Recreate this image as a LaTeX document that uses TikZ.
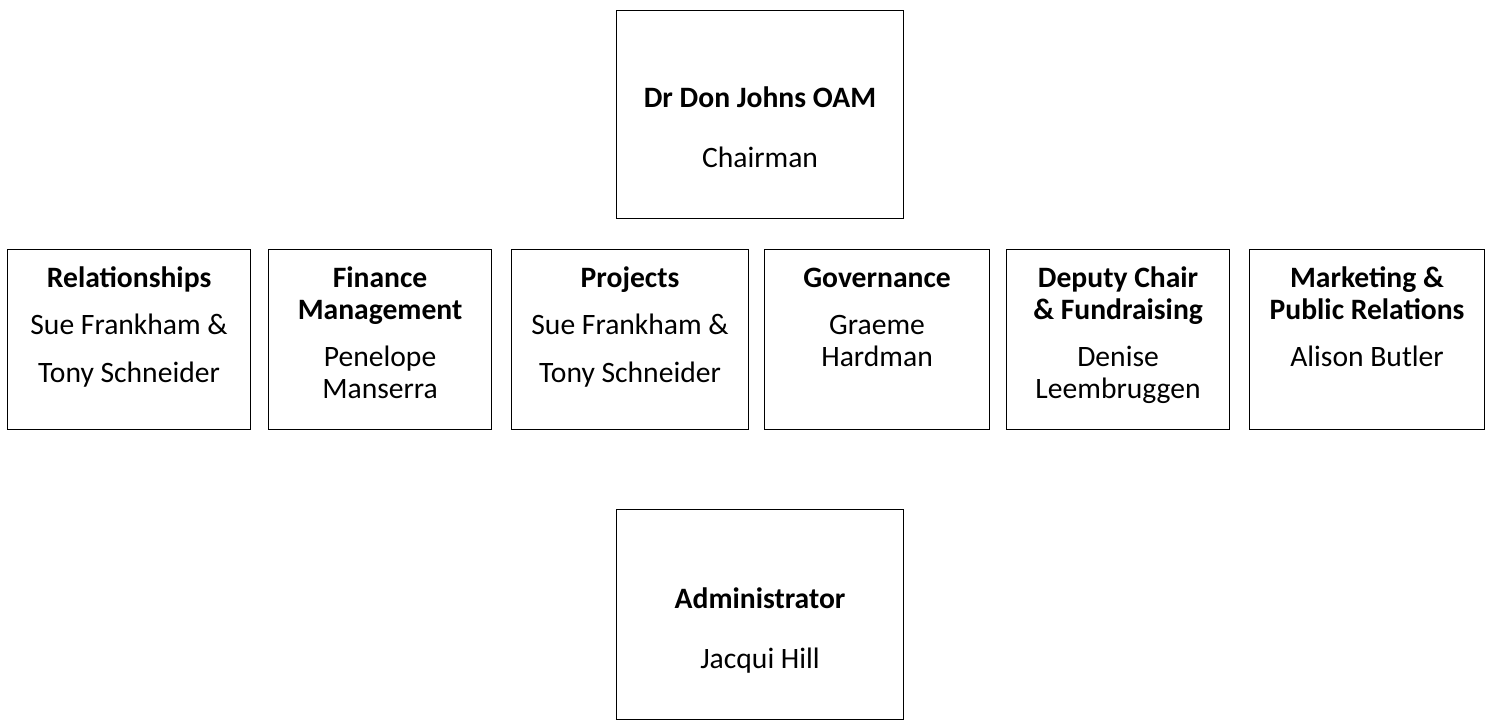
\documentclass[tikz,border=0pt]{standalone}
\usepackage{fontspec}
\setmainfont{Carlito}
\usetikzlibrary{positioning}

\tikzset{
  unitbox/.style={draw, line width=1.1pt, inner sep=0pt, anchor=north west,
    minimum height=180pt},
  boxtext/.style={inner sep=0pt, align=center, anchor=base,
    font=\fontsize{29.6}{32}\selectfont}
}

\begin{document}
\begin{tikzpicture}[x=1pt, y=-1pt]
    \useasboundingbox (0,0) rectangle (1494,720);
    % chairman
    \node[unitbox, minimum width=287pt, minimum height=208pt] (chair) at (616,10) {};
    \node[boxtext] (chairtxt) at (chair.north |- 0,167) {\textbf{Dr Don Johns OAM}\\[28pt] Chairman};
    % portfolio row
    \node[unitbox, minimum width=243pt] (rel) at (7,249) {};
    \node[unitbox, minimum width=223pt] (fin) at (268,249) {};
    \node[unitbox, minimum width=237pt] (proj) at (511,249) {};
    \node[unitbox, minimum width=225pt] (gov) at (764,249) {};
    \node[unitbox, minimum width=223pt] (dep) at (1006,249) {};
    \node[unitbox, minimum width=235pt] (mkt) at (1249,249) {};
    \node[boxtext] (reltxt) at (rel.north |- 0,382) {\textbf{Relationships}\\[15pt] Sue Frankham \&\\[16pt] Tony Schneider};
    \node[boxtext] (fintxt) at (fin.north |- 0,398) {\textbf{Finance}\\ \textbf{Management}\\[15pt] Penelope\\ Manserra};
    \node[boxtext] (projtxt) at (proj.north |- 0,382) {\textbf{Projects}\\[15pt] Sue Frankham \&\\[16pt] Tony Schneider};
    \node[boxtext] (govtxt) at (gov.north |- 0,366) {\textbf{Governance}\\[15pt] Graeme\\ Hardman};
    \node[boxtext] (deptxt) at (dep.north |- 0,398) {\textbf{Deputy Chair}\\ \textbf{\& Fundraising}\\[15pt] Denise\\ Leembruggen};
    \node[boxtext] (mkttxt) at (mkt.north |- 0,366) {\textbf{Marketing \&}\\ \textbf{Public Relations}\\[15pt] Alison Butler};
    % administrator
    \node[unitbox, minimum width=287pt, minimum height=210pt] (admin) at (616,509) {};
    \node[boxtext] (admintxt) at (admin.north |- 0,668) {\textbf{Administrator}\\[28pt] Jacqui Hill};
\end{tikzpicture}
\end{document}
